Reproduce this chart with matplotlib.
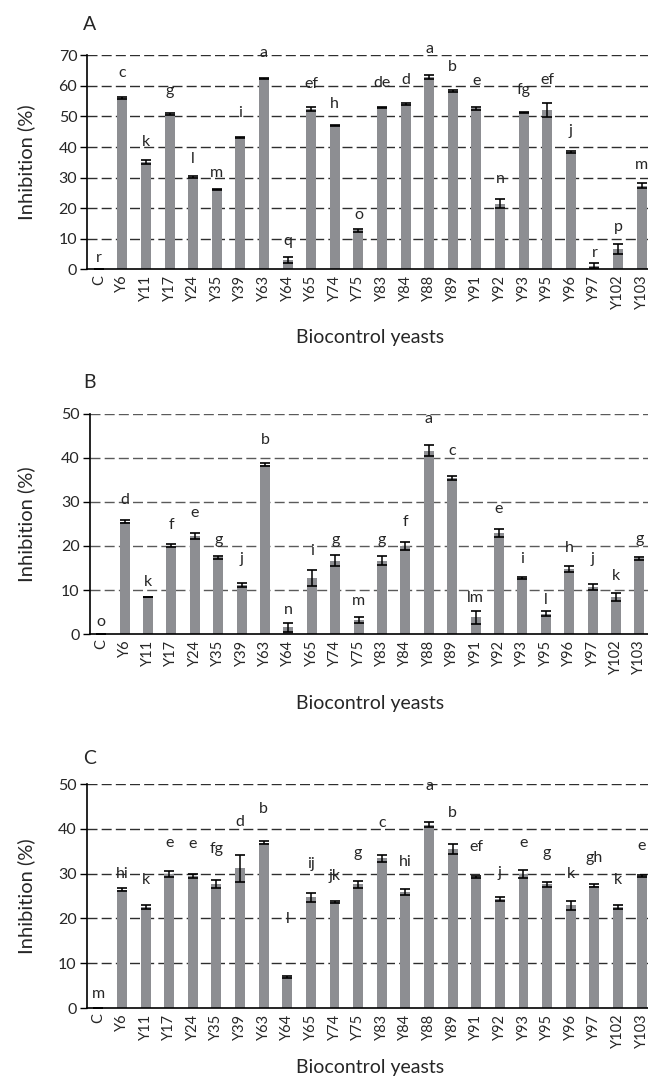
import matplotlib
matplotlib.use('Agg')
import matplotlib.pyplot as plt
import numpy as np

# ---------------- data ----------------
strains = ['C', 'Y6', 'Y11', 'Y17', 'Y24', 'Y35', 'Y39', 'Y63', 'Y64', 'Y65', 'Y74', 'Y75',
           'Y83', 'Y84', 'Y88', 'Y89', 'Y91', 'Y92', 'Y93', 'Y95', 'Y96', 'Y97', 'Y102', 'Y103']

inhib_A = [0, 56.1, 35.1, 50.7, 30.2, 26.2, 43.0, 62.3, 3.1, 52.4, 47.1, 12.7,
           52.9, 54.0, 63.0, 58.2, 52.6, 21.5, 51.3, 52.1, 38.4, 1.2, 6.7, 27.3]
err_A = [0, 0.4, 0.5, 0.3, 0.2, 0.2, 0.2, 0.2, 0.9, 0.6, 0.2, 0.6,
         0.3, 0.4, 0.6, 0.3, 0.4, 1.5, 0.3, 2.4, 0.2, 0.7, 1.6, 0.8]
letters_A = ['r', 'c', 'k', 'g', 'l', 'm', 'i', 'a', 'q', 'ef', 'h', 'o',
             'de', 'd', 'a', 'b', 'e', 'n', 'fg', 'ef', 'j', 'r', 'p', 'm']
letter_y_A = [2.3, 62.8, 40.4, 57.0, 34.9, 30.2, 49.9, 69.6, 7.8, 59.2, 52.9, 16.3,
              59.5, 60.6, 70.9, 65.0, 60.2, 28.2, 57.3, 60.6, 43.9, 3.9, 12.5, 32.9]

inhib_B = [0, 25.5, 8.4, 20.1, 22.3, 17.4, 11.1, 38.5, 1.5, 12.7, 16.7, 3.2,
           16.7, 20.0, 41.7, 35.5, 3.8, 22.9, 12.7, 4.6, 14.8, 10.7, 8.5, 17.2]
err_B = [0, 0.3, 0.1, 0.4, 0.7, 0.4, 0.5, 0.3, 1.0, 1.9, 1.3, 0.6,
         1.0, 0.9, 1.3, 0.4, 1.5, 0.9, 0.3, 0.6, 0.7, 0.7, 0.9, 0.3]
letters_B = ['o', 'd', 'k', 'f', 'e', 'g', 'j', 'b', 'n', 'i', 'g', 'm',
             'g', 'f', 'a', 'c', 'lm', 'e', 'i', 'l', 'h', 'j', 'k', 'g']
letter_y_B = [1.8, 29.5, 10.9, 23.8, 26.7, 20.5, 16.2, 43.2, 4.5, 18.0, 20.5, 6.6,
              20.5, 24.6, 47.9, 40.7, 7.3, 27.6, 16.2, 6.8, 18.7, 16.2, 12.3, 20.6]

inhib_C = [0, 26.4, 22.5, 29.9, 29.5, 27.7, 31.2, 36.9, 6.9, 24.7, 23.6, 27.6,
           33.4, 25.9, 40.9, 35.4, 29.3, 24.3, 29.9, 27.6, 22.9, 27.3, 22.5, 29.4]
err_C = [0, 0.3, 0.5, 0.7, 0.4, 0.9, 3.0, 0.4, 0.3, 1.0, 0.2, 0.8,
         0.8, 0.6, 0.6, 1.1, 0.2, 0.5, 0.8, 0.6, 1.0, 0.4, 0.5, 0.2]
letters_C = ['m', 'hi', 'k', 'e', 'e', 'fg', 'd', 'b', 'l', 'ij', 'jk', 'g',
             'c', 'hi', 'a', 'b', 'ef', 'j', 'e', 'g', 'k', 'gh', 'k', 'e']
letter_y_C = [2.2, 29.0, 27.7, 36.0, 35.7, 34.5, 40.6, 43.6, 18.9, 31.2, 28.6, 33.8,
              40.5, 31.6, 48.7, 42.7, 35.1, 29.3, 36.0, 33.8, 29.0, 32.7, 27.6, 35.3]

# ---------------- style ----------------
plt.rcParams['font.family'] = ['Lato', 'DejaVu Sans']
W, H = 648, 1083
fig = plt.figure(figsize=(W / 100, H / 100), dpi=100)

BAR = '#8d8e92'
TXT = '#262626'

panels = [
    dict(name='A', vals=inhib_A, errs=err_A, letters=letters_A, ly=letter_y_A, ymax=70,
         box=(87.0, 55.3, 653.4, 269.3), grid='#2e2e2e', title_y=24, xlabel_y=337),
    dict(name='B', vals=inhib_B, errs=err_B, letters=letters_B, ly=letter_y_B, ymax=50,
         box=(89.5, 414.0, 651.1, 634.0), grid='#5a5a5a', title_y=383, xlabel_y=703),
    dict(name='C', vals=inhib_C, errs=err_C, letters=letters_C, ly=letter_y_C, ymax=50,
         box=(86.5, 784.0, 653.4, 1008.0), grid='#2e2e2e', title_y=759, xlabel_y=1067),
]

x = np.arange(len(strains))
for p in panels:
    l, t, r, b = p['box']
    ax = fig.add_axes([l / W, 1 - b / H, (r - l) / W, (b - t) / H])
    ax.bar(x, p['vals'], width=0.42, color=BAR, zorder=2)
    ax.errorbar(x, p['vals'], yerr=p['errs'], fmt='none', ecolor='black',
                elinewidth=1.1, capsize=3.3, capthick=1.2, zorder=3)
    ax.set_xlim(-0.5, len(strains) - 0.5)
    ax.set_ylim(0, p['ymax'])
    ax.set_yticks(np.arange(0, p['ymax'] + 1, 10))
    for yv in np.arange(10, p['ymax'] + 1, 10):
        ax.axhline(yv, color=p['grid'], lw=1.0, ls=(0, (7.2, 3.0)), zorder=1)
    for s in ['top', 'right']:
        ax.spines[s].set_visible(False)
    for s in ['left', 'bottom']:
        ax.spines[s].set_color('black')
        ax.spines[s].set_linewidth(1.2)
        ax.spines[s].set_zorder(4)
    ax.set_xticks(x)
    ax.set_xticklabels(strains, rotation=90)
    ax.tick_params(axis='x', length=0, pad=4, labelsize=10.5, labelcolor=TXT)
    ax.tick_params(axis='y', length=5, width=1.0, pad=2, labelsize=11.5, labelcolor=TXT)
    for i, (let, yy) in enumerate(zip(p['letters'], p['ly'])):
        ax.text(i, yy, let, ha='center', va='baseline', fontsize=11.5, color=TXT, zorder=5)
    fig.text(83 / W, 1 - p['title_y'] / H, p['name'], ha='left', va='center',
             fontsize=14, color=TXT)
    fig.text(370 / W, 1 - p['xlabel_y'] / H, 'Biocontrol yeasts', ha='center', va='center',
             fontsize=14, color=TXT)
    fig.text(26 / W, 1 - (t + b) / 2 / H, 'Inhibition (%)', ha='center', va='center',
             rotation=90, fontsize=14.5, color=TXT)

fig.savefig('out.png', dpi=100)
